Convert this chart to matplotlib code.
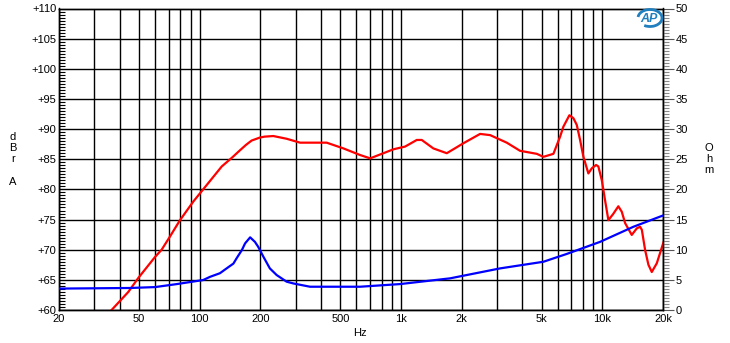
import matplotlib
matplotlib.use("Agg")
import matplotlib.pyplot as plt
from matplotlib.patches import Arc
from matplotlib.ticker import FixedLocator, MultipleLocator, NullFormatter

plt.rcParams['font.family'] = ['Liberation Sans', 'DejaVu Sans']

# ---- data ----
spl_freq = [35, 36.5, 44.2, 49.5, 60, 64.7, 71.2, 79.8, 93, 104, 128.6, 145, 158.6, 170, 181, 199,
            210, 232, 270, 315, 427, 517, 626, 702, 817, 916, 1047, 1197, 1267, 1446, 1687,
            2039, 2469, 2770, 3350, 3900, 4720, 5093, 5711, 6166, 6400, 6856, 7180, 7459,
            7748, 8048, 8518, 8860, 9306, 9550, 9930, 10310, 10709, 11300, 12000, 12480,
            12970, 13990, 14830, 15390, 15700, 16300, 16930, 17590, 18630, 20100]
spl_db = [59.4, 60.0, 63.0, 65.3, 68.8, 70.0, 72.2, 74.9, 78.0, 80.0, 83.8, 85.3, 86.5, 87.4, 88.1,
          88.6, 88.75, 88.85, 88.4, 87.75, 87.75, 86.8, 85.7, 85.15, 86.0, 86.65, 87.1, 88.2,
          88.2, 86.8, 86.0, 87.65, 89.2, 89.0, 87.75, 86.4, 85.9, 85.4, 85.9, 88.75, 90.4,
          92.3, 91.8, 90.7, 88.2, 85.4, 82.65, 83.5, 84.05, 83.8, 81.55, 78.2, 74.9, 75.9,
          77.2, 76.3, 74.4, 72.45, 73.55, 73.8, 73.3, 69.95, 67.5, 66.3, 67.75, 71.2]

imp_freq = [20, 30, 45, 60, 77, 104, 112.5, 126, 136, 147, 152.6, 162, 168, 178, 188, 195,
            207, 223, 241, 270, 292, 353, 626, 989, 1752, 3104, 5093, 6655, 9738, 14250, 20100]
imp_ohm = [3.55, 3.6, 3.65, 3.8, 4.3, 4.97, 5.5, 6.1, 6.9, 7.7, 8.6, 9.95, 11.05, 12.05, 11.3,
           10.5, 8.85, 6.9, 5.8, 4.7, 4.4, 3.86, 3.86, 4.3, 5.25, 6.9, 8.0, 9.3, 11.3, 13.8, 15.7]

x_ticks = [20, 50, 100, 200, 500, 1000, 2000, 5000, 10000, 20000]
x_labels = ['20', '50', '100', '200', '500', '1k', '2k', '5k', '10k', '20k']
grid_x = [20, 30, 40, 50, 60, 70, 80, 90, 100, 200, 300, 400, 500, 600, 700, 800, 900,
          1000, 2000, 3000, 4000, 5000, 6000, 7000, 8000, 9000, 10000, 20000]
db_ticks = list(range(60, 111, 5))
ohm_ticks = list(range(0, 51, 5))

W, H = 730, 343
fig = plt.figure(figsize=(W / 100, H / 100), dpi=100)
L, R, T, B = 59, 663, 8.5, 310
ax = fig.add_axes([L / W, 1 - B / H, (R - L) / W, (B - T) / H])
ax.set_xscale('log')
ax.set_xlim(20, 20000)
ax.set_ylim(60, 110)

for gx in grid_x:
    ax.axvline(gx, color='black', lw=1.0, zorder=1)
for gy in db_ticks:
    ax.axhline(gy, color='black', lw=1.0, zorder=1)

ax.xaxis.set_major_locator(FixedLocator(x_ticks))
ax.set_xticklabels(x_labels)
ax.xaxis.set_minor_formatter(NullFormatter())
ax.tick_params(axis='x', which='both', length=0, labelsize=8, pad=3)
ax.yaxis.set_major_locator(FixedLocator(db_ticks))
ax.set_yticklabels(['+%d' % v for v in db_ticks])
ax.yaxis.set_minor_locator(MultipleLocator(0.5))
ax.tick_params(axis='y', which='major', direction='in', length=0, labelsize=8, pad=2)
ax.tick_params(axis='y', which='minor', direction='in', length=4, width=0.8, color='black')

ax.plot(spl_freq, spl_db, color='#ff0000', lw=1.6, zorder=3, clip_on=True)

ax2 = ax.twinx()
ax2.set_ylim(0, 50)
ax2.yaxis.set_major_locator(FixedLocator(ohm_ticks))
ax2.set_yticklabels([str(v) for v in ohm_ticks])
ax2.yaxis.set_minor_locator(MultipleLocator(0.5))
ax2.tick_params(axis='y', which='major', direction='out', length=8, width=0.8, color='#555555',
                labelsize=8, pad=1)
ax2.tick_params(axis='y', which='minor', direction='out', length=4, width=0.8, color='#888888')
ax2.plot(imp_freq, imp_ohm, color='#0000ff', lw=1.6, zorder=3)

for a in (ax, ax2):
    for s in a.spines.values():
        s.set_linewidth(1.0)
        s.set_color('black')

# axis titles
fig.text(13 / W, 1 - 159.5 / H, 'd\nB\nr\n\nA', ha='center', va='center', fontsize=8,
         linespacing=1.15)
fig.text(709 / W, 1 - 159 / H, 'O\nh\nm', ha='center', va='center', fontsize=8,
         linespacing=1.15)
fig.text(360 / W, 1 - 333 / H, 'Hz', ha='center', va='center', fontsize=8)

# AP logo
logo_c = '#1f7fbf'
fig.patches.append(Arc((650 / W, 1 - 18 / H), 24 / W, 17 / H, theta1=-110, theta2=170,
                       transform=fig.transFigure, color=logo_c, lw=2.0, figure=fig))
fig.text(649 / W, 1 - 18.5 / H, 'AP', ha='center', va='center', fontsize=9,
         fontweight='bold', style='italic', color=logo_c)

fig.savefig('out.png', dpi=100, facecolor='white')
